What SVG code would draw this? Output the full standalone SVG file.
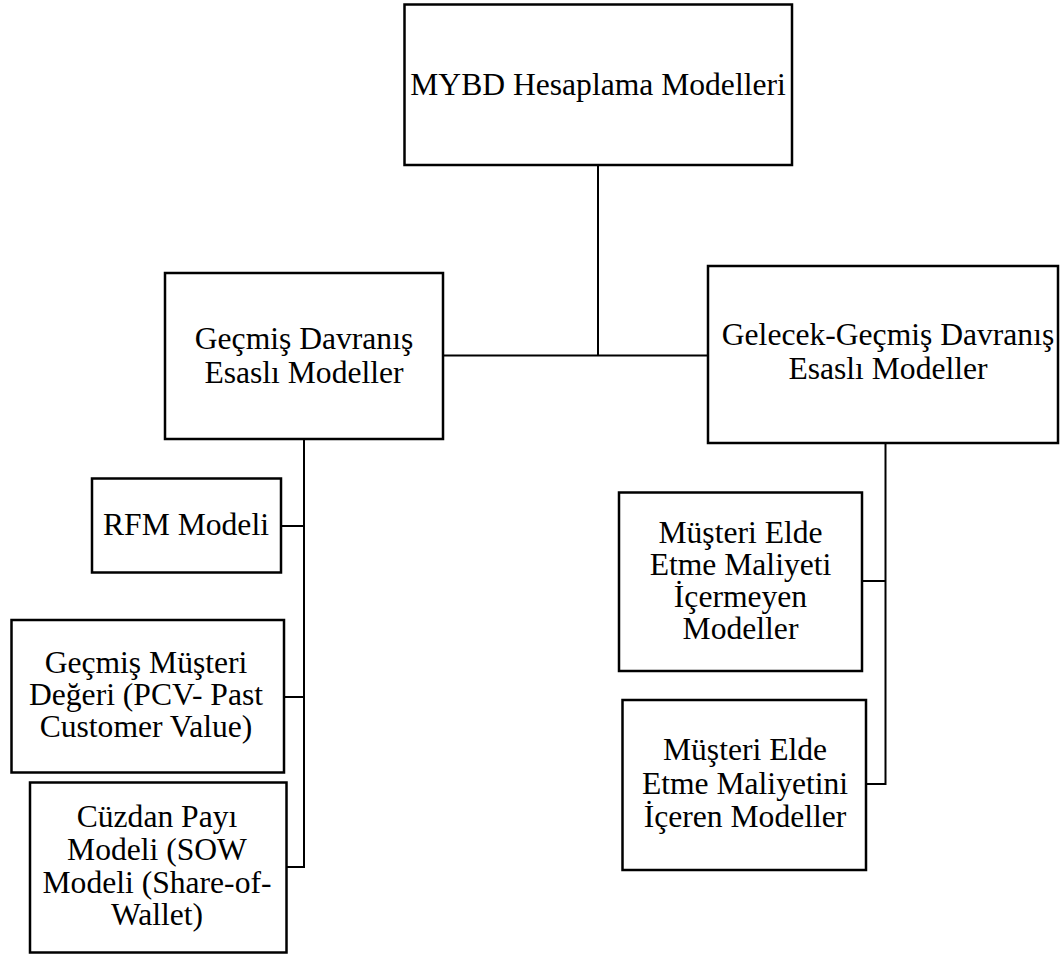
<svg xmlns="http://www.w3.org/2000/svg" width="1061" height="958" viewBox="0 0 1061 958">
  <style>
    .box { fill: #ffffff; stroke: #000000; stroke-width: 2.5; }
    .link { fill: none; stroke: #000000; stroke-width: 2; }
    text { font-family: "Liberation Serif", "Times New Roman", serif; font-size: 31.6px; fill: #000000; text-anchor: middle; }
  </style>

  <!-- connectors -->
  <g id="connectors">
    <path class="link" d="M598,165 V355.5"/>
    <path class="link" d="M443,355.5 H708"/>
    <path class="link" d="M304,439 V867 H286.5"/>
    <path class="link" d="M281,526 H304"/>
    <path class="link" d="M284,697 H304"/>
    <path class="link" d="M885.5,443 V784 H866"/>
    <path class="link" d="M862,581 H885.5"/>
  </g>

  <g id="root">
    <rect class="box" x="404.5" y="4.5" width="387.5" height="160.5"/>
    <text x="598" y="95">MYBD Hesaplama Modelleri</text>
  </g>

  <g id="past-behaviour">
    <rect class="box" x="165" y="273" width="278" height="166"/>
    <text x="304" y="349">Geçmiş Davranış</text>
    <text x="304" y="383">Esaslı Modeller</text>
  </g>

  <g id="future-past-behaviour">
    <rect class="box" x="708" y="266" width="350" height="177"/>
    <text x="888" y="345">Gelecek-Geçmiş Davranış</text>
    <text x="888" y="379">Esaslı Modeller</text>
  </g>

  <g id="rfm">
    <rect class="box" x="92" y="478.5" width="189" height="94"/>
    <text x="186" y="535">RFM Modeli</text>
  </g>

  <g id="pcv">
    <rect class="box" x="11.5" y="620" width="272.5" height="152.5"/>
    <text x="146" y="673">Geçmiş Müşteri</text>
    <text x="146" y="705">Değeri (PCV- Past</text>
    <text x="146" y="737">Customer Value)</text>
  </g>

  <g id="sow">
    <rect class="box" x="30" y="782.5" width="256.5" height="170"/>
    <text x="157" y="827">Cüzdan Payı</text>
    <text x="157" y="860">Modeli (SOW</text>
    <text x="157" y="893">Modeli (Share-of-</text>
    <text x="157" y="925">Wallet)</text>
  </g>

  <g id="without-acquisition-cost">
    <rect class="box" x="619" y="492.5" width="243" height="178.5"/>
    <text x="740.5" y="543">Müşteri Elde</text>
    <text x="740.5" y="575">Etme Maliyeti</text>
    <text x="740.5" y="607">İçermeyen</text>
    <text x="740.5" y="639">Modeller</text>
  </g>

  <g id="with-acquisition-cost">
    <rect class="box" x="622.5" y="700" width="243.5" height="170"/>
    <text x="745" y="760">Müşteri Elde</text>
    <text x="745" y="794">Etme Maliyetini</text>
    <text x="745" y="827">İçeren Modeller</text>
  </g>
</svg>
